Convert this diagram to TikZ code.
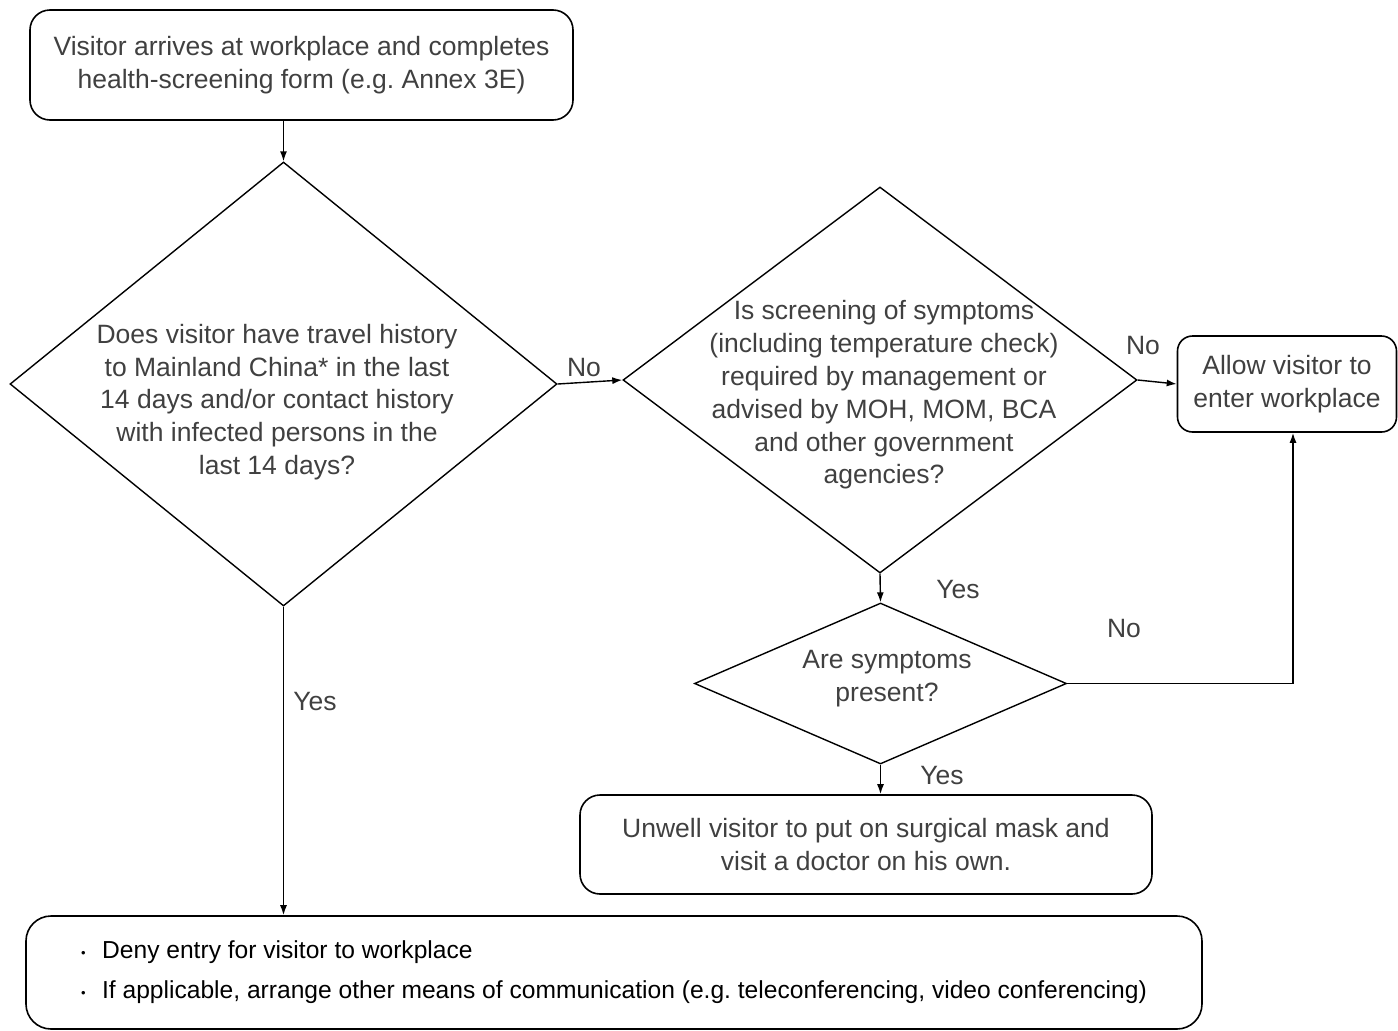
\documentclass[tikz,border=0pt]{standalone}
\usepackage{fontspec}
\setmainfont{Liberation Sans}
\usepackage{xcolor}
\usepackage{tikz}
\usetikzlibrary{shapes.geometric,arrows.meta,positioning}

\definecolor{txtgray}{RGB}{64,64,64}
\newcommand{\bul}{\makebox[21pt][l]{\raisebox{1.5pt}{\fontsize{13}{13}\selectfont\textbullet}}}
\frenchspacing

\begin{document}
\begin{tikzpicture}[
    x=1pt, y=-1pt,
    every node/.style={font=\fontsize{26.5}{32.8}\selectfont, text=txtgray},
    box/.style={rectangle, rounded corners=20pt, draw, line width=1.6pt, align=center, inner sep=0pt},
    query/.style={diamond, draw, line width=1.4pt, inner sep=0pt, aspect=1},
    qtext/.style={align=center},
    lbl/.style={inner sep=0pt},
    arr/.style={-{Latex[length=10pt,width=7pt]}, line width=1.4pt}
]
    \useasboundingbox (0,0) rectangle (1398,1031);

    % Arrival box
    \node[box, minimum width=543pt, minimum height=110pt] (arrive) at (301.5,65)
        {Visitor arrives at workplace and completes\\health-screening form (e.g. Annex 3E)};

    % Travel history question
    \node[query, minimum width=547pt, minimum height=444pt] (travel) at (283.5,384) {};
    \node[qtext] (travelq) at (277,402)
        {Does visitor have travel history\\to Mainland China* in the last\\14 days and/or contact history\\with infected persons in the\\last 14 days?};

    % Screening question
    \node[query, minimum width=514pt, minimum height=386pt] (screen) at (880,380) {};
    \node[qtext] (screenq) at (884,395)
        {Is screening of symptoms\\(including temperature check)\\required by management or\\advised by MOH, MOM, BCA\\and other government\\agencies?};

    % Symptoms question
    \node[query, minimum width=372pt, minimum height=161pt] (symptom) at (880.5,683.5) {};
    \node[qtext] (symptomq) at (887,679) {Are symptoms\\present?};

    % Outcome boxes
    \node[box, rounded corners=15pt, minimum width=219pt, minimum height=96pt] (allow) at (1287,384)
        {Allow visitor to\\enter workplace};
    \node[box, minimum width=572pt, minimum height=99pt] (unwell) at (866,844.5)
        {Unwell visitor to put on surgical mask and\\visit a doctor on his own.};
    \node[box, rounded corners=25pt, minimum width=1176pt, minimum height=113pt,
          align=left, text=black, font=\fontsize{24.6}{40}\selectfont] (deny) at (614,972.5)
        {\bul Deny entry for visitor to workplace\\
         \bul If applicable, arrange other means of communication (e.g. teleconferencing, video conferencing)};

    % Labels
    \node[lbl] (no1) at (584,368) {No};
    \node[lbl] (no2) at (1143,346) {No};
    \node[lbl] (yes2) at (958,590) {Yes};
    \node[lbl] (no3) at (1124,629) {No};
    \node[lbl] (yes3) at (942,776) {Yes};
    \node[lbl] (yes1) at (315,702) {Yes};

    % Arrows
    \draw[arr] (arrive.south -| travel.north) -- (travel.north);
    \draw[arr] (travel.east) -- (screen.west);
    \draw[arr] (screen.east) -- (allow.west);
    \draw[arr] (screen.south) -- (symptom.north);
    \draw[arr] (symptom.east) -| ([xshift=6pt]allow.south);
    \draw[arr] (symptom.south) -- (symptom.south |- unwell.north);
    \draw[arr] (travel.south) -- (travel.south |- deny.north);
\end{tikzpicture}
\end{document}
